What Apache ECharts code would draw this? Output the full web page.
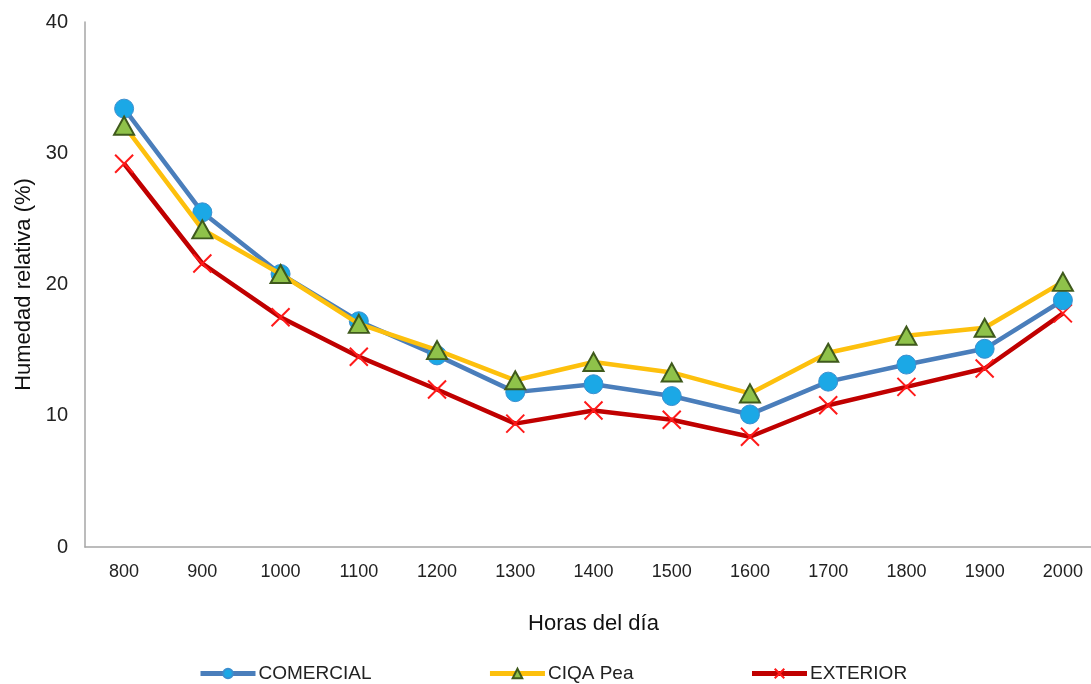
<!DOCTYPE html>
<html>
<head>
<meta charset="utf-8">
<script src="https://cdn.jsdelivr.net/npm/echarts@6/dist/echarts.min.js"></script>
<style>
  html, body { margin: 0; padding: 0; background: #fff; }
  #chart { width: 1091px; height: 684px; }
</style>
</head>
<body>
<div id="chart"></div>
<script>
// Hours of the day (category axis)
const horas = ['800', '900', '1000', '1100', '1200', '1300', '1400', '1500', '1600', '1700', '1800', '1900', '2000'];

// Relative humidity (%) per location
const comercial = [33.4, 25.5, 20.8, 17.2, 14.6, 11.8, 12.4, 11.5, 10.1, 12.6, 13.9, 15.1, 18.8];
const ciqaPea   = [32.1, 24.2, 20.8, 17.0, 15.0, 12.7, 14.1, 13.3, 11.7, 14.8, 16.1, 16.7, 20.2];
const exterior  = [29.2, 21.6, 17.5, 14.5, 12.0,  9.4, 10.4,  9.7,  8.4, 10.8, 12.2, 13.6, 17.8];

const yTicks = { min: 0, max: 40, interval: 10 };

const FONT = '"Liberation Sans", Arial, sans-serif';
const crossPath = 'path://M0,0L10,10M10,0L0,10';

const chart = echarts.init(document.getElementById('chart'), null, { renderer: 'canvas' });

chart.setOption({
  backgroundColor: '#ffffff',
  animation: false,
  textStyle: { fontFamily: FONT },
  // plot area runs past the right edge of the page
  grid: { left: 85, top: 22, width: 1017, height: 525, containLabel: false, outerBoundsMode: 'none' },
  legend: {
    top: 659,
    left: 193,
    itemGap: 116,
    itemWidth: 55,
    itemHeight: 12,
    lineStyle: { width: 5 },
    textStyle: { fontFamily: FONT, fontSize: 19, color: '#222', padding: [0, 0, 0, -2] },
    data: ['COMERCIAL', 'CIQA Pea', 'EXTERIOR']
  },
  xAxis: {
    type: 'category',
    data: horas,
    boundaryGap: true,
    name: 'Horas del día',
    nameLocation: 'middle',
    nameGap: 66,
    nameTextStyle: { fontFamily: FONT, fontSize: 22, color: '#111' },
    axisLine: { show: true, lineStyle: { color: '#a6a6a6', width: 1.5 } },
    axisTick: { show: false },
    axisLabel: { fontFamily: FONT, fontSize: 18, color: '#222', margin: 16 },
    splitLine: { show: false }
  },
  yAxis: {
    type: 'value',
    min: yTicks.min,
    max: yTicks.max,
    interval: yTicks.interval,
    name: 'Humedad relativa (%)',
    nameLocation: 'middle',
    nameGap: 49,
    nameRotate: 90,
    nameTextStyle: { fontFamily: FONT, fontSize: 22, color: '#111' },
    axisLine: { show: true, lineStyle: { color: '#a6a6a6', width: 1.5 } },
    axisTick: { show: false },
    axisLabel: { fontFamily: FONT, fontSize: 20, color: '#222', margin: 17 },
    splitLine: { show: false }
  },
  series: [
    {
      name: 'COMERCIAL',
      type: 'line',
      data: comercial,
      symbol: 'circle',
      symbolSize: 19,
      lineStyle: { color: '#4a7ebb', width: 4.5 },
      itemStyle: { color: '#1ba8e6', borderColor: '#3a8fd0', borderWidth: 1 },
      z: 3
    },
    {
      name: 'CIQA Pea',
      type: 'line',
      data: ciqaPea,
      symbol: 'triangle',
      symbolSize: [20, 18],
      lineStyle: { color: '#fdc00d', width: 4.5 },
      itemStyle: { color: '#8fc24a', borderColor: '#3f5a1c', borderWidth: 2 },
      z: 4
    },
    {
      name: 'EXTERIOR',
      type: 'line',
      data: exterior,
      symbol: crossPath,
      symbolSize: 18,
      lineStyle: { color: '#c00000', width: 4.5 },
      itemStyle: { color: 'none', borderColor: '#ff1a1a', borderWidth: 2 },
      z: 2
    }
  ]
});
</script>
</body>
</html>
